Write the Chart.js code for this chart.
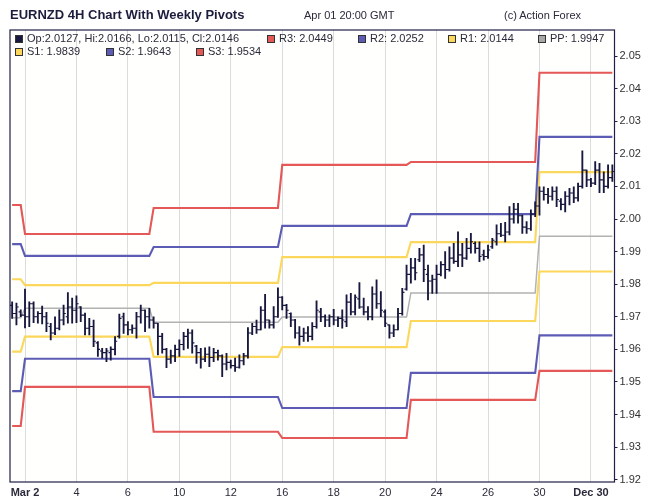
<!DOCTYPE html>
<html>
<head>
<meta charset="utf-8">
<script src="https://cdn.jsdelivr.net/npm/chart.js@4.4.0/dist/chart.umd.min.js"></script>
<style>
html,body{margin:0;padding:0;background:#ffffff;}
#wrap{position:relative;width:650px;height:501px;font-family:"Liberation Sans",Arial,sans-serif;overflow:hidden;}
#c{position:absolute;left:0;top:0;}
.t{position:absolute;white-space:nowrap;line-height:1;}
.sw{position:absolute;width:6px;height:6px;border:1px solid #333;}
</style>
</head>
<body>
<div id="wrap">
<canvas id="c" width="650" height="501"></canvas>
</div>
<script>
// ---------------- DATA ----------------
const chartTitle = "EURNZD 4H Chart With Weekly Pivots";
const chartTime = "Apr 01 20:00 GMT";
const chartCredit = "(c) Action Forex";

// 4H OHLC bars (Feb 28 12:00 ... Apr 01 20:00)
const opens = [
1.9735,1.9710,1.9715,1.9705,1.9700,1.9740,1.9700,1.9710,1.9700,1.9670,
1.9650,1.9665,1.9690,1.9700,1.9730,1.9720,1.9730,1.9705,1.9665,1.9670,
1.9620,1.9595,1.9590,1.9590,1.9600,1.9640,1.9700,1.9675,1.9660,1.9665,
1.9700,1.9720,1.9700,1.9690,1.9680,1.9640,1.9600,1.9570,1.9580,1.9600,
1.9615,1.9640,1.9650,1.9610,1.9590,1.9570,1.9585,1.9575,1.9590,1.9580,
1.9555,1.9560,1.9550,1.9545,1.9565,1.9580,1.9650,1.9670,1.9660,1.9720,
1.9690,1.9675,1.9700,1.9760,1.9735,1.9710,1.9690,1.9650,1.9640,1.9650,
1.9640,1.9670,1.9715,1.9700,1.9690,1.9700,1.9690,1.9695,1.9685,1.9745,
1.9715,1.9755,1.9730,1.9715,1.9700,1.9770,1.9740,1.9715,1.9675,1.9650,
1.9660,1.9710,1.9785,1.9830,1.9850,1.9875,1.9890,1.9830,1.9810,1.9815,
1.9830,1.9860,1.9845,1.9880,1.9870,1.9890,1.9880,1.9910,1.9925,1.9910,
1.9890,1.9885,1.9915,1.9930,1.9955,1.9950,1.9960,2.0000,2.0030,2.0010,
1.9975,1.9970,2.0015,2.0040,2.0085,2.0075,2.0070,2.0085,2.0055,2.0045,
2.0070,2.0080,2.0065,2.0100,2.0150,2.0120,2.0110,2.0150,2.0120,2.0100,
2.0127];
const highs = [
1.9746,1.9742,1.9721,1.9785,1.9746,1.9746,1.9716,1.9733,1.9714,1.9680,
1.9700,1.9721,1.9736,1.9774,1.9757,1.9764,1.9731,1.9711,1.9695,1.9690,
1.9624,1.9603,1.9603,1.9608,1.9639,1.9708,1.9711,1.9685,1.9675,1.9714,
1.9736,1.9721,1.9726,1.9700,1.9680,1.9649,1.9603,1.9598,1.9613,1.9629,
1.9652,1.9662,1.9660,1.9612,1.9603,1.9605,1.9608,1.9603,1.9598,1.9583,
1.9588,1.9567,1.9573,1.9583,1.9588,1.9667,1.9680,1.9690,1.9731,1.9769,
1.9690,1.9731,1.9789,1.9762,1.9738,1.9712,1.9692,1.9670,1.9665,1.9670,
1.9682,1.9749,1.9726,1.9706,1.9706,1.9723,1.9700,1.9721,1.9767,1.9772,
1.9767,1.9805,1.9757,1.9731,1.9792,1.9813,1.9777,1.9721,1.9675,1.9675,
1.9726,1.9787,1.9859,1.9879,1.9879,1.9910,1.9920,1.9859,1.9828,1.9859,
1.9869,1.9900,1.9915,1.9925,1.9961,1.9925,1.9941,1.9956,1.9930,1.9930,
1.9905,1.9920,1.9941,1.9982,1.9987,1.9990,2.0038,2.0048,2.0048,2.0012,
1.9992,2.0028,2.0053,2.0099,2.0099,2.0094,2.0099,2.0099,2.0063,2.0084,
2.0094,2.0099,2.0110,2.0209,2.0150,2.0125,2.0176,2.0171,2.0145,2.0166,
2.0166];
const lows = [
1.9695,1.9675,1.9700,1.9666,1.9670,1.9682,1.9680,1.9678,1.9654,1.9629,
1.9645,1.9660,1.9675,1.9680,1.9680,1.9682,1.9685,1.9644,1.9644,1.9608,
1.9578,1.9573,1.9562,1.9567,1.9583,1.9634,1.9649,1.9644,1.9649,1.9634,
1.9680,1.9654,1.9665,1.9665,1.9583,1.9588,1.9544,1.9557,1.9562,1.9578,
1.9598,1.9603,1.9588,1.9557,1.9542,1.9562,1.9547,1.9562,1.9567,1.9516,
1.9537,1.9542,1.9532,1.9542,1.9552,1.9573,1.9645,1.9649,1.9660,1.9665,
1.9665,1.9665,1.9698,1.9721,1.9695,1.9670,1.9634,1.9613,1.9624,1.9624,
1.9629,1.9665,1.9685,1.9670,1.9670,1.9675,1.9670,1.9665,1.9670,1.9706,
1.9706,1.9726,1.9706,1.9690,1.9690,1.9726,1.9700,1.9670,1.9634,1.9639,
1.9660,1.9705,1.9782,1.9803,1.9813,1.9869,1.9808,1.9752,1.9772,1.9772,
1.9825,1.9818,1.9840,1.9864,1.9854,1.9854,1.9876,1.9895,1.9895,1.9869,
1.9874,1.9879,1.9910,1.9920,1.9946,1.9930,1.9951,1.9987,1.9987,1.9956,
1.9956,1.9965,2.0007,2.0012,2.0058,2.0048,2.0058,2.0038,2.0028,2.0022,
2.0043,2.0050,2.0055,2.0095,2.0099,2.0099,2.0105,2.0081,2.0081,2.0095,
2.0115];
const closes = [
1.9710,1.9730,1.9705,1.9700,1.9740,1.9700,1.9710,1.9700,1.9680,1.9650,
1.9665,1.9690,1.9710,1.9730,1.9720,1.9740,1.9705,1.9665,1.9670,1.9625,
1.9600,1.9590,1.9595,1.9600,1.9625,1.9695,1.9675,1.9660,1.9665,1.9700,
1.9720,1.9700,1.9690,1.9680,1.9640,1.9600,1.9570,1.9580,1.9600,1.9615,
1.9640,1.9650,1.9620,1.9590,1.9570,1.9585,1.9575,1.9590,1.9580,1.9555,
1.9560,1.9550,1.9545,1.9565,1.9580,1.9650,1.9670,1.9660,1.9720,1.9690,
1.9675,1.9700,1.9760,1.9735,1.9720,1.9690,1.9650,1.9640,1.9650,1.9640,
1.9670,1.9720,1.9700,1.9690,1.9700,1.9690,1.9695,1.9690,1.9745,1.9715,
1.9760,1.9730,1.9715,1.9700,1.9770,1.9740,1.9720,1.9680,1.9650,1.9660,
1.9710,1.9775,1.9830,1.9850,1.9835,1.9890,1.9845,1.9810,1.9815,1.9830,
1.9860,1.9845,1.9880,1.9870,1.9890,1.9880,1.9910,1.9930,1.9910,1.9885,
1.9885,1.9905,1.9935,1.9955,1.9950,1.9960,2.0000,2.0030,2.0010,1.9975,
1.9970,2.0015,2.0040,2.0085,2.0075,2.0070,2.0085,2.0060,2.0045,2.0070,
2.0080,2.0065,2.0100,2.0150,2.0120,2.0110,2.0150,2.0120,2.0100,2.0127,
2.0146];

// weekly pivot levels; each week starts at the given bar index
const weekStart = [0, 3, 33, 63, 93, 123];
const pivotR3 = [2.0043, 1.9954, 2.0034, 2.0166, 2.0175, 2.0449];
const pivotR2 = [1.9923, 1.9887, 1.9914, 1.9979, 2.0015, 2.0252];
const pivotR1 = [1.9815, 1.9797, 1.9804, 1.9883, 1.9929, 2.0144];
const pivotPP = [1.9697, 1.9726, 1.9683, 1.9699, 1.9773, 1.9947];
const pivotS1 = [1.9593, 1.9639, 1.9577, 1.9607, 1.9687, 1.9839];
const pivotS2 = [1.9472, 1.9571, 1.9454, 1.9420, 1.9528, 1.9643];
const pivotS3 = [1.9365, 1.9485, 1.9347, 1.9328, 1.9445, 1.9534];

// axis ticks
const xTickIndex  = [3, 15, 27, 39, 51, 63, 75, 87, 99, 111, 123, 135];
const xTickLabels = ['Mar 2','4','6','10','12','16','18','20','24','26','30','Dec 30'];
const xTickBold   = ['Mar 2','Dec 30'];
const yTickValues = [1.92,1.93,1.94,1.95,1.96,1.97,1.98,1.99,2.00,2.01,2.02,2.03,2.04,2.05];
const yMin = 1.9193, yMax = 2.058;

// ---------------- STYLE ----------------
const C_BAR = '#17173f';
const C_RED = '#e45858';
const C_BLUE = '#5c5cb4';
const C_YEL = '#fbd85c';
const C_GRAY = '#b2b2b2';
const FONT = '"Liberation Sans", Arial, sans-serif';

// expand weekly values to one value per bar
function perBar(weekVals){
  return opens.map((_, i) => {
    let w = 0;
    for (let k = 0; k < weekStart.length; k++) if (i >= weekStart[k]) w = k;
    return weekVals[w];
  });
}
const labels = opens.map((_, i) => i);

const pivots = [
  {name:'R3', vals:pivotR3, color:C_RED, w:2.1},
  {name:'R2', vals:pivotR2, color:C_BLUE, w:2.1},
  {name:'R1', vals:pivotR1, color:C_YEL, w:2.1},
  {name:'PP', vals:pivotPP, color:C_GRAY, w:1.5},
  {name:'S1', vals:pivotS1, color:C_YEL, w:2.1},
  {name:'S2', vals:pivotS2, color:C_BLUE, w:2.1},
  {name:'S3', vals:pivotS3, color:C_RED, w:2.1}
];

const datasets = pivots.map(p => ({
  type:'line', label:p.name, data:perBar(p.vals), borderColor:p.color,
  borderWidth:p.w, pointRadius:0, tension:0, fill:false, order:2
}));
datasets.push({
  type:'bar', label:'HL', data:lows.map((l, i) => [l, highs[i]]),
  backgroundColor:C_BAR, borderWidth:0, barThickness:1.2, order:1
});

const bgPlugin = {
  id:'bg',
  beforeDraw(chart){
    const a = chart.chartArea, ctx = chart.ctx;
    ctx.save(); ctx.fillStyle = '#fffffd';
    ctx.fillRect(a.left, a.top, a.right - a.left, a.bottom - a.top);
    ctx.restore();
  },
  afterDatasetsDraw(chart){
    const a = chart.chartArea, ctx = chart.ctx;
    const xs = chart.scales.x, ys = chart.scales.y;
    ctx.save();
    ctx.beginPath(); ctx.rect(a.left, a.top, a.right - a.left, a.bottom - a.top); ctx.clip();
    ctx.strokeStyle = C_BAR; ctx.lineWidth = 1.1;
    ctx.beginPath();
    for (let i = 0; i < opens.length; i++){
      const px = xs.getPixelForValue(i);
      const yo = ys.getPixelForValue(opens[i]);
      const yc = ys.getPixelForValue(closes[i]);
      ctx.moveTo(px - 2.2, yo); ctx.lineTo(px, yo);
      ctx.moveTo(px, yc); ctx.lineTo(px + 2.2, yc);
    }
    ctx.stroke();
    ctx.restore();
  },
  afterDraw(chart){
    const a = chart.chartArea, ctx = chart.ctx;
    ctx.save(); ctx.strokeStyle = '#1e1e46'; ctx.lineWidth = 1.2;
    ctx.strokeRect(a.left, a.top, a.right - a.left, a.bottom - a.top);
    ctx.restore();
  }
};

new Chart(document.getElementById('c'), {
  type:'bar',
  data:{labels, datasets},
  options:{
    responsive:false, animation:false, devicePixelRatio:1,
    layout:{padding:{left:10, top:30, right:0, bottom:0}},
    plugins:{legend:{display:false}, tooltip:{enabled:false}},
    scales:{
      x:{
        type:'category', offset:true,
        grid:{offset:false, drawTicks:false,
          color:(ctx) => xTickIndex.includes(ctx.index) ? '#dcdcdc' : 'rgba(0,0,0,0)', lineWidth:1},
        border:{display:false},
        ticks:{autoSkip:false, maxRotation:0, minRotation:0, padding:4, color:'#2a2a3a',
          callback:(v, i) => { const k = xTickIndex.indexOf(i); return k >= 0 ? xTickLabels[k] : ''; },
          font:(ctx) => {
            const k = xTickIndex.indexOf(ctx.index);
            const bold = k >= 0 && xTickBold.includes(xTickLabels[k]);
            return {family:FONT, size:11, weight: bold ? 'bold' : 'normal'};
          }},
        afterFit:(s) => { s.height = 19; }
      },
      y:{
        position:'right', min:yMin, max:yMax,
        grid:{drawOnChartArea:false, drawTicks:true, tickLength:3, color:'#1e1e46'},
        border:{display:false},
        ticks:{padding:2, color:'#333333', font:{family:FONT, size:11},
          callback:(v) => Number(v).toFixed(2)},
        afterBuildTicks:(s) => { s.ticks = yTickValues.map(v => ({value:v})); },
        afterFit:(s) => { s.width = 35.5; }
      }
    }
  },
  plugins:[bgPlugin]
});

// ---------------- header & legend (text) ----------------
const wrap = document.getElementById('wrap');
function addText(txt, x, y, size, weight, color){
  const d = document.createElement('div');
  d.className = 't'; d.textContent = txt;
  d.style.left = x + 'px'; d.style.top = y + 'px';
  d.style.fontSize = size + 'px'; d.style.fontWeight = weight; d.style.color = color;
  wrap.appendChild(d);
}
function addSwatch(x, y, color){
  const s = document.createElement('div');
  s.className = 'sw'; s.style.left = x + 'px'; s.style.top = y + 'px'; s.style.background = color;
  wrap.appendChild(s);
}
addText(chartTitle, 10, 8, 13, 'bold', '#1c1c3c');
addText(chartTime, 304, 10, 11, 'normal', '#2a2a3a');
addText(chartCredit, 504, 10, 11, 'normal', '#2a2a3a');

const last = opens.length - 1;
const f4 = (v) => v.toFixed(4);
const legendItems = [
  {row:0, x:15, color:C_BAR, text:'Op:' + f4(opens[last]) + ', Hi:' + f4(highs[last]) + ', Lo:' + f4(lows[last]) + ', Cl:' + f4(closes[last])},
  {row:0, x:267, color:C_RED, text:'R3: ' + f4(pivotR3[pivotR3.length-1])},
  {row:0, x:358, color:C_BLUE, text:'R2: ' + f4(pivotR2[pivotR2.length-1])},
  {row:0, x:448, color:C_YEL, text:'R1: ' + f4(pivotR1[pivotR1.length-1])},
  {row:0, x:538, color:'#a8a8a8', text:'PP: ' + f4(pivotPP[pivotPP.length-1])},
  {row:1, x:15, color:C_YEL, text:'S1: ' + f4(pivotS1[pivotS1.length-1])},
  {row:1, x:106, color:C_BLUE, text:'S2: ' + f4(pivotS2[pivotS2.length-1])},
  {row:1, x:196, color:C_RED, text:'S3: ' + f4(pivotS3[pivotS3.length-1])}
];
legendItems.forEach(it => {
  const yc = it.row === 0 ? 38.5 : 51.5;
  addSwatch(it.x, yc - 4, it.color);
  addText(it.text, it.x + 12, yc - 6, 11, 'normal', '#2a2a3a');
});
</script>
</body>
</html>
